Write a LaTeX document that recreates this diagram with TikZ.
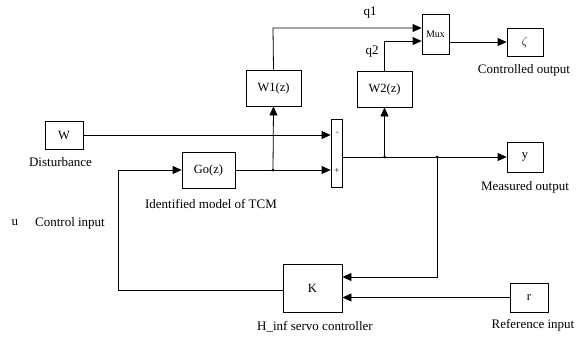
\documentclass[tikz,border=0pt]{standalone}
\usepackage{fontspec}
\setmainfont{Liberation Serif}
\usetikzlibrary{arrows.meta}
\begin{document}
\begin{tikzpicture}[x=1pt,y=-1pt,
  blk/.style={draw,line width=0.8pt,inner sep=0pt,font=\fontsize{12.5}{14}\selectfont},
  lbl/.style={inner sep=0pt,font=\fontsize{13}{15}\selectfont},
  wire/.style={line width=0.8pt},
  arr/.style={wire,-{Triangle[length=9pt,width=8pt]}},
  dot/.style={circle,fill,inner sep=0pt,minimum size=3pt}]
\useasboundingbox (0,0) rectangle (585,341);
% blocks
\node[blk,minimum width=38pt,minimum height=28pt] (W) at (64,135) {W};
\node[blk,minimum width=55pt,minimum height=36pt] (W1) at (273.5,88) {W1(z)};
\node[blk,minimum width=55pt,minimum height=36pt] (W2) at (384.5,89) {W2(z)};
\node[blk,minimum width=27pt,minimum height=40pt,font=\fontsize{10}{12}\selectfont] (Mux) at (435.5,34) {Mux};
\node[blk,minimum width=36pt,minimum height=28pt] (C) at (525,42) {$\zeta$};
\node[blk,minimum width=11pt,minimum height=68pt] (sum) at (336.5,153) {};
\node[blk,minimum width=36pt,minimum height=30pt] (Y) at (525,157) {y};
\node[blk,minimum width=53pt,minimum height=36pt] (Go) at (208.5,170) {Go(z)};
\node[blk,minimum width=59pt,minimum height=48pt] (K) at (312.5,288) {K};
\node[blk,minimum width=38pt,minimum height=29pt] (R) at (529,297.5) {r};
% signs
\node[inner sep=0pt,font=\fontsize{8}{9}\selectfont] (minus) at (337.5,133) {-};
\node[inner sep=0pt,font=\fontsize{9}{10}\selectfont] (plus) at (337,171) {+};
% labels
\node[lbl] (ldist) at (60.5,162) {Disturbance};
\node[lbl] (lctrl) at (524,70) {Controlled output};
\node[lbl] (lmeas) at (525,187) {Measured output};
\node[lbl] (lid) at (211,204) {Identified model of TCM};
\node[lbl] (lu) at (15,223) {u};
\node[lbl] (lci) at (70,223) {Control input};
\node[lbl] (lh) at (315,327) {H\_inf servo controller};
\node[lbl] (lref) at (533,325) {Reference input};
\node[lbl] (lq1) at (370,13) {q1};
\node[lbl] (lq2) at (372,52) {q2};
% junctions
\coordinate (j1) at (273,170);
\coordinate (j2) at (384.5,157);
\coordinate (j3) at (437,157);
\coordinate (c1) at (273,28);
\coordinate (c2) at (384.5,41);
\coordinate (c3) at (437,277);
\coordinate (c4) at (118,290);
\coordinate (c5) at (118,170);
\node[dot] at (j1) {};
\node[dot] at (j2) {};
\node[dot] at (j3) {};
% wires
\draw[arr] (W.east) -- (W.east -| sum.west);
\draw[arr] (Go.east) -- (Go.east -| sum.west);
\draw[arr] (j1) -- (W1.south);
\draw[arr] (W1.north) -- (c1) -- (c1 -| Mux.west);
\draw[arr] (W2.north) -- (c2) -- (c2 -| Mux.west);
\draw[arr] (Mux.east |- C.west) -- (C.west);
\draw[arr] (sum.east |- Y.west) -- (Y.west);
\draw[arr] (j2) -- (W2.south);
\draw[arr] (j3) -- (c3) -- (c3 -| K.east);
\draw[arr] (R.west) -- (R.west -| K.east);
\draw[arr] (K.west |- c4) -- (c4) -- (c5) -- (Go.west);
\end{tikzpicture}
\end{document}
